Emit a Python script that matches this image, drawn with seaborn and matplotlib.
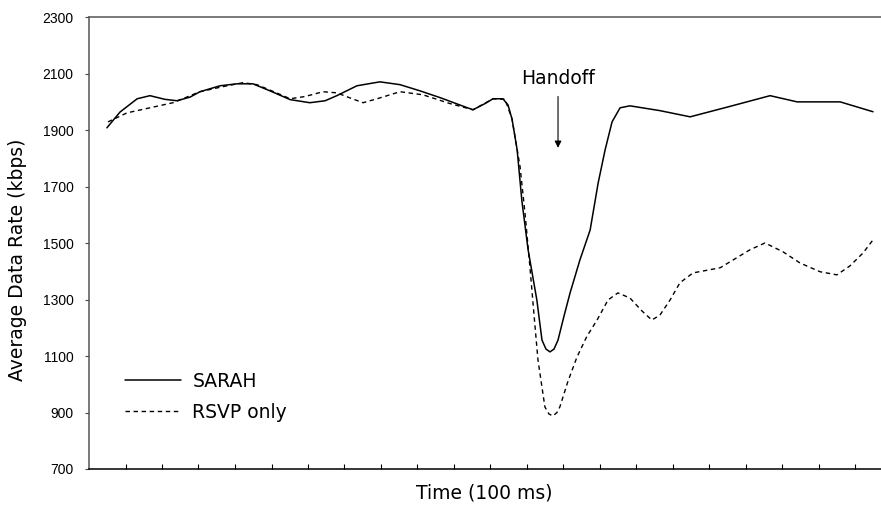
import numpy as np
import pandas as pd
import matplotlib
matplotlib.use("Agg")
import matplotlib.pyplot as plt
import seaborn as sns

# Time in units of 100 ms, rate in kbps
sarah_time = [0.49, 0.85, 1.32, 1.67, 2.08, 2.41, 2.77, 3.04, 3.59, 4.05, 4.49, 4.96,
              5.51, 6.05, 6.47, 6.79, 7.34, 7.97, 8.52, 9.07, 9.62, 10.16, 10.52, 10.85,
              11.07, 11.34, 11.48, 11.59, 11.73, 11.86, 12.03, 12.27, 12.41, 12.52, 12.63,
              12.74, 12.85, 13.01, 13.18, 13.45, 13.73, 13.95, 14.14, 14.33, 14.55, 14.82,
              15.64, 16.47, 17.56, 18.66, 19.40, 20.58, 21.48]
sarah_rate = [1909, 1965, 2012, 2023, 2010, 2005, 2018, 2037, 2058, 2065, 2065, 2040,
              2009, 1998, 2005, 2023, 2058, 2072, 2062, 2040, 2016, 1990, 1973, 1995,
              2012, 2012, 1990, 1940, 1831, 1650, 1477, 1299, 1157, 1125, 1115,
              1125, 1157, 1240, 1324, 1441, 1547, 1714, 1831, 1930, 1980, 1987,
              1970, 1948, 1985, 2023, 2001, 2001, 1966]

rsvp_time = [0.52, 1.04, 1.67, 2.30, 3.04, 3.67, 4.22, 4.60, 5.10, 5.51, 5.92, 6.41,
             6.79, 7.15, 7.51, 7.97, 8.52, 9.15, 9.89, 10.52, 11.07, 11.40, 11.59, 11.81,
             11.95, 12.08, 12.19, 12.30, 12.49, 12.60, 12.71, 12.82, 12.90, 13.12, 13.37,
             13.64, 13.92, 14.22, 14.49, 14.82, 15.15, 15.42, 15.64, 15.92, 16.19, 16.55,
             17.29, 18.11, 18.52, 19.01, 19.48, 20.03, 20.49, 20.85, 21.21, 21.48]
rsvp_rate = [1930, 1962, 1980, 1998, 2037, 2055, 2069, 2062, 2035, 2012, 2020, 2037,
             2033, 2015, 1998, 2015, 2037, 2026, 1995, 1973, 2012, 2010, 1940, 1771,
             1600, 1416, 1250, 1087, 920, 895, 888, 900, 920, 1010, 1097,
             1170, 1228, 1299, 1324, 1306, 1260, 1228, 1245, 1299, 1360, 1395,
             1413, 1477, 1501, 1470, 1430, 1399, 1388, 1420, 1466, 1512]

handoff_time = 12.85
handoff_tip = 1838
handoff_tail = 2085

y_ticks = np.arange(700, 2301, 200)
x_ticks = np.arange(1, 22)

sns.set_style("white")
plt.rcParams['font.family'] = ['DejaVu Sans']
plt.rcParams['text.color'] = 'black'
plt.rcParams['axes.labelcolor'] = 'black'
plt.rcParams['xtick.color'] = 'black'
plt.rcParams['ytick.color'] = 'black'

df_sarah = pd.DataFrame({'Time': sarah_time, 'Rate': sarah_rate})
df_rsvp = pd.DataFrame({'Time': rsvp_time, 'Rate': rsvp_rate})

fig = plt.figure(figsize=(8.81, 5.09), dpi=100)
ax = fig.add_axes([89/881, 40/509, 803/881, 451.5/509])

sns.lineplot(data=df_sarah, x='Time', y='Rate', ax=ax, color='black', linewidth=1.1,
             label='SARAH', sort=False)
sns.lineplot(data=df_rsvp, x='Time', y='Rate', ax=ax, color='black', linewidth=1.0,
             label='RSVP only', sort=False)
ax.lines[1].set_dashes((3.2, 2.6))

ax.set_xlim(0, 22)
ax.set_ylim(700, 2300)
ax.set_yticks(y_ticks)
ax.set_yticklabels([str(v) for v in y_ticks], family='Liberation Sans', fontsize=10)
ax.set_xticks(x_ticks)
ax.set_xticklabels([])
ax.tick_params(axis='x', direction='in', length=3.5, width=0.8, color='black', bottom=True)
ax.tick_params(axis='y', direction='out', length=3, width=0.8, color='#444444', left=True, pad=8)

ax.set_xlabel('Time (100 ms)', fontsize=13.5)
ax.set_ylabel('Average Data Rate (kbps)', fontsize=13.5)
ax.xaxis.set_label_coords(0.492, -0.033)
ax.yaxis.set_label_coords(-0.077, 0.463)

for side in ['top', 'left', 'bottom']:
    ax.spines[side].set_visible(True)
    ax.spines[side].set_linewidth(1.1)
ax.spines['top'].set_color('#555555')
ax.spines['left'].set_color('#555555')
ax.spines['bottom'].set_color('black')
ax.spines['right'].set_visible(False)

ax.annotate('Handoff', xy=(handoff_time, handoff_tip), xytext=(handoff_time, handoff_tail),
            ha='center', va='center', fontsize=13.5, color='black',
            arrowprops=dict(arrowstyle='-|>', color='black', lw=0.8, mutation_scale=10,
                            shrinkA=4, shrinkB=0))

leg = ax.legend(loc='upper left', bbox_to_anchor=(0.0448, 0.215), frameon=False,
                fontsize=13.5, handlelength=3.0, handletextpad=0.6, labelspacing=0.62,
                borderpad=0, borderaxespad=0)
for t in leg.get_texts():
    t.set_color('black')

fig.savefig('out.png', dpi=100)
